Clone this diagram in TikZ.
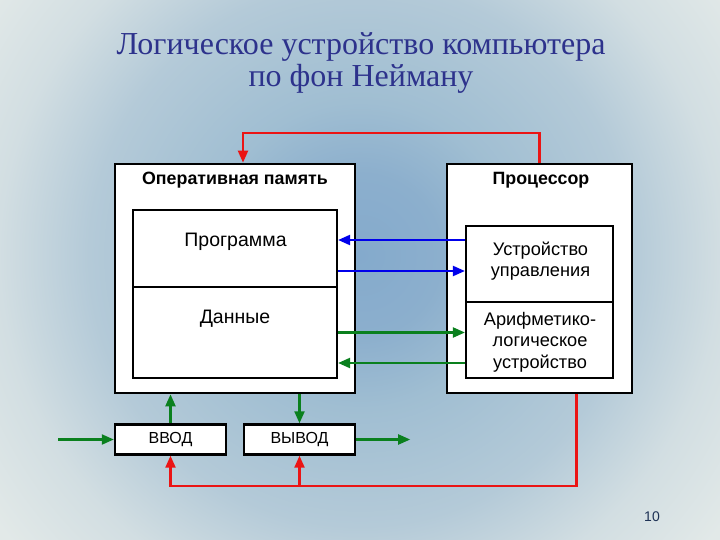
\documentclass[tikz,border=0pt]{standalone}
\usepackage{fontspec}
\setmainfont{Liberation Serif}
\setsansfont{Liberation Sans}
\usetikzlibrary{arrows.meta}
\definecolor{ttl}{RGB}{45,50,140}
\definecolor{pgnum}{RGB}{30,50,85}
\definecolor{bga}{RGB}{132,170,204}
\definecolor{bgb}{RGB}{140,175,205}
\definecolor{bgc}{RGB}{160,190,210}
\definecolor{bgd}{RGB}{180,202,216}
\definecolor{bge}{RGB}{210,222,226}
\definecolor{bgf}{RGB}{226,233,232}
\definecolor{cred}{RGB}{235,20,20}
\definecolor{cgreen}{RGB}{10,128,30}
\definecolor{cblue}{RGB}{0,0,235}
\pgfdeclareradialshading{bgshade}{\pgfpoint{0bp}{0bp}}{color(0bp)=(bga); color(9bp)=(bgb); color(17bp)=(bgc); color(30bp)=(bgd); color(40bp)=(bge); color(50bp)=(bgf); color(60bp)=(bgf)}
\tikzset{
  bigbox/.style={draw=black, line width=2.7pt, fill=white, inner sep=0pt},
  inbox/.style={draw=black, line width=2.2pt, fill=white, inner sep=0pt},
  lbl/.style={font=\sffamily\fontsize{18.2}{21}\selectfont, anchor=base, inner sep=0pt},
  biglbl/.style={font=\sffamily\fontsize{19.5}{22}\selectfont, anchor=base, inner sep=0pt},
  hdr/.style={font=\sffamily\bfseries\fontsize{17.8}{20}\selectfont, anchor=base, inner sep=0pt},
  iolbl/.style={font=\sffamily\fontsize{16}{18}\selectfont},
  conn/.style={line width=2.2pt, -{Triangle[length=12pt,width=10pt]}},
  rarr/.style={conn, draw=cred},
  garr/.style={conn, draw=cgreen},
  barr/.style={conn, draw=cblue}
}
\begin{document}
\begin{tikzpicture}[x=1pt,y=-1pt]
\useasboundingbox (0,0) rectangle (720,540);
\begin{scope}
\clip (0,0) rectangle (720,540);
\pgflowlevelobj{\pgftransformshift{\pgfpoint{360pt}{-255pt}}\pgftransformscale{9}}{\pgfuseshading{bgshade}}
\end{scope}

% title
\node[font=\fontsize{32}{33}\selectfont, text=ttl, anchor=base, inner sep=0pt] (t1) at (361,55) {Логическое устройство компьютера};
\node[font=\fontsize{32}{33}\selectfont, text=ttl, anchor=base, inner sep=0pt] (t2) at (361,87) {по фон Нейману};

% RAM
\node[bigbox, minimum width=240pt, minimum height=229pt] (ram) at (235,278.5) {};
\node[hdr] (ramt) at (235,185) {Оперативная память};
\node[inbox, minimum width=204pt, minimum height=77pt] (prog) at (235,248.5) {};
\node[inbox, minimum width=204pt, minimum height=91pt] (data) at (235,332.5) {};
\node[biglbl] (progt) at (235.5,247) {Программа};
\node[biglbl] (datat) at (235,323) {Данные};

% CPU
\node[bigbox, minimum width=185pt, minimum height=229pt] (cpu) at (539.5,278.5) {};
\node[hdr] (cput) at (541,185) {Процессор};
\node[inbox, minimum width=147pt, minimum height=76pt] (cu) at (539.5,264) {};
\node[inbox, minimum width=147pt, minimum height=76pt] (alu) at (539.5,340) {};
\node[lbl] (cu1) at (540.5,255) {Устройство};
\node[lbl] (cu2) at (540.5,276.5) {управления};
\node[lbl] (alu1) at (540,325) {Арифметико-};
\node[lbl] (alu2) at (540,346.5) {логическое};
\node[lbl] (alu3) at (540,368) {устройство};

% IO
\node[bigbox, line width=2.4pt, minimum width=111pt, minimum height=30pt, iolbl] (vvod) at (170.5,439.5) {ВВОД};
\node[bigbox, line width=2.4pt, minimum width=111pt, minimum height=30pt, iolbl] (vyvod) at (299.5,439.5) {ВЫВОД};

% blue connectors
\draw[barr] ([yshift=24pt]cu.west) coordinate (b1) -- (b1 -| prog.east);
\draw[barr] ([yshift=-22.5pt]prog.east) coordinate (b2) -- (b2 -| cu.west);
% green connectors
\draw[garr] (data.east) coordinate (g1) -- (g1 -| alu.west);
\draw[garr] ([yshift=-23pt]alu.west) coordinate (g2) -- (g2 -| data.east);
\draw[garr] ([xshift=-55.5pt]vvod.west) coordinate (in) -- (vvod.west);
\draw[garr] (vvod.north) -- (vvod.north |- ram.south);
\draw[garr] (vyvod.north |- ram.south) -- (vyvod.north);
\draw[garr] (vyvod.east) -- ++(54,0) coordinate (out);
% red connectors
\draw[rarr] (cpu.north) -- ++(0,-30) -| ([xshift=8pt]ram.north);
\draw[rarr] ([xshift=37pt]cpu.south) -- ++(0,91.5) coordinate (rc) -| (vvod.south);
\draw[rarr] (vyvod.south |- rc) -- (vyvod.south);

% page number
\node[font=\sffamily\fontsize{14}{16}\selectfont, text=pgnum] (pn) at (652,517) {10};
\end{tikzpicture}
\end{document}
